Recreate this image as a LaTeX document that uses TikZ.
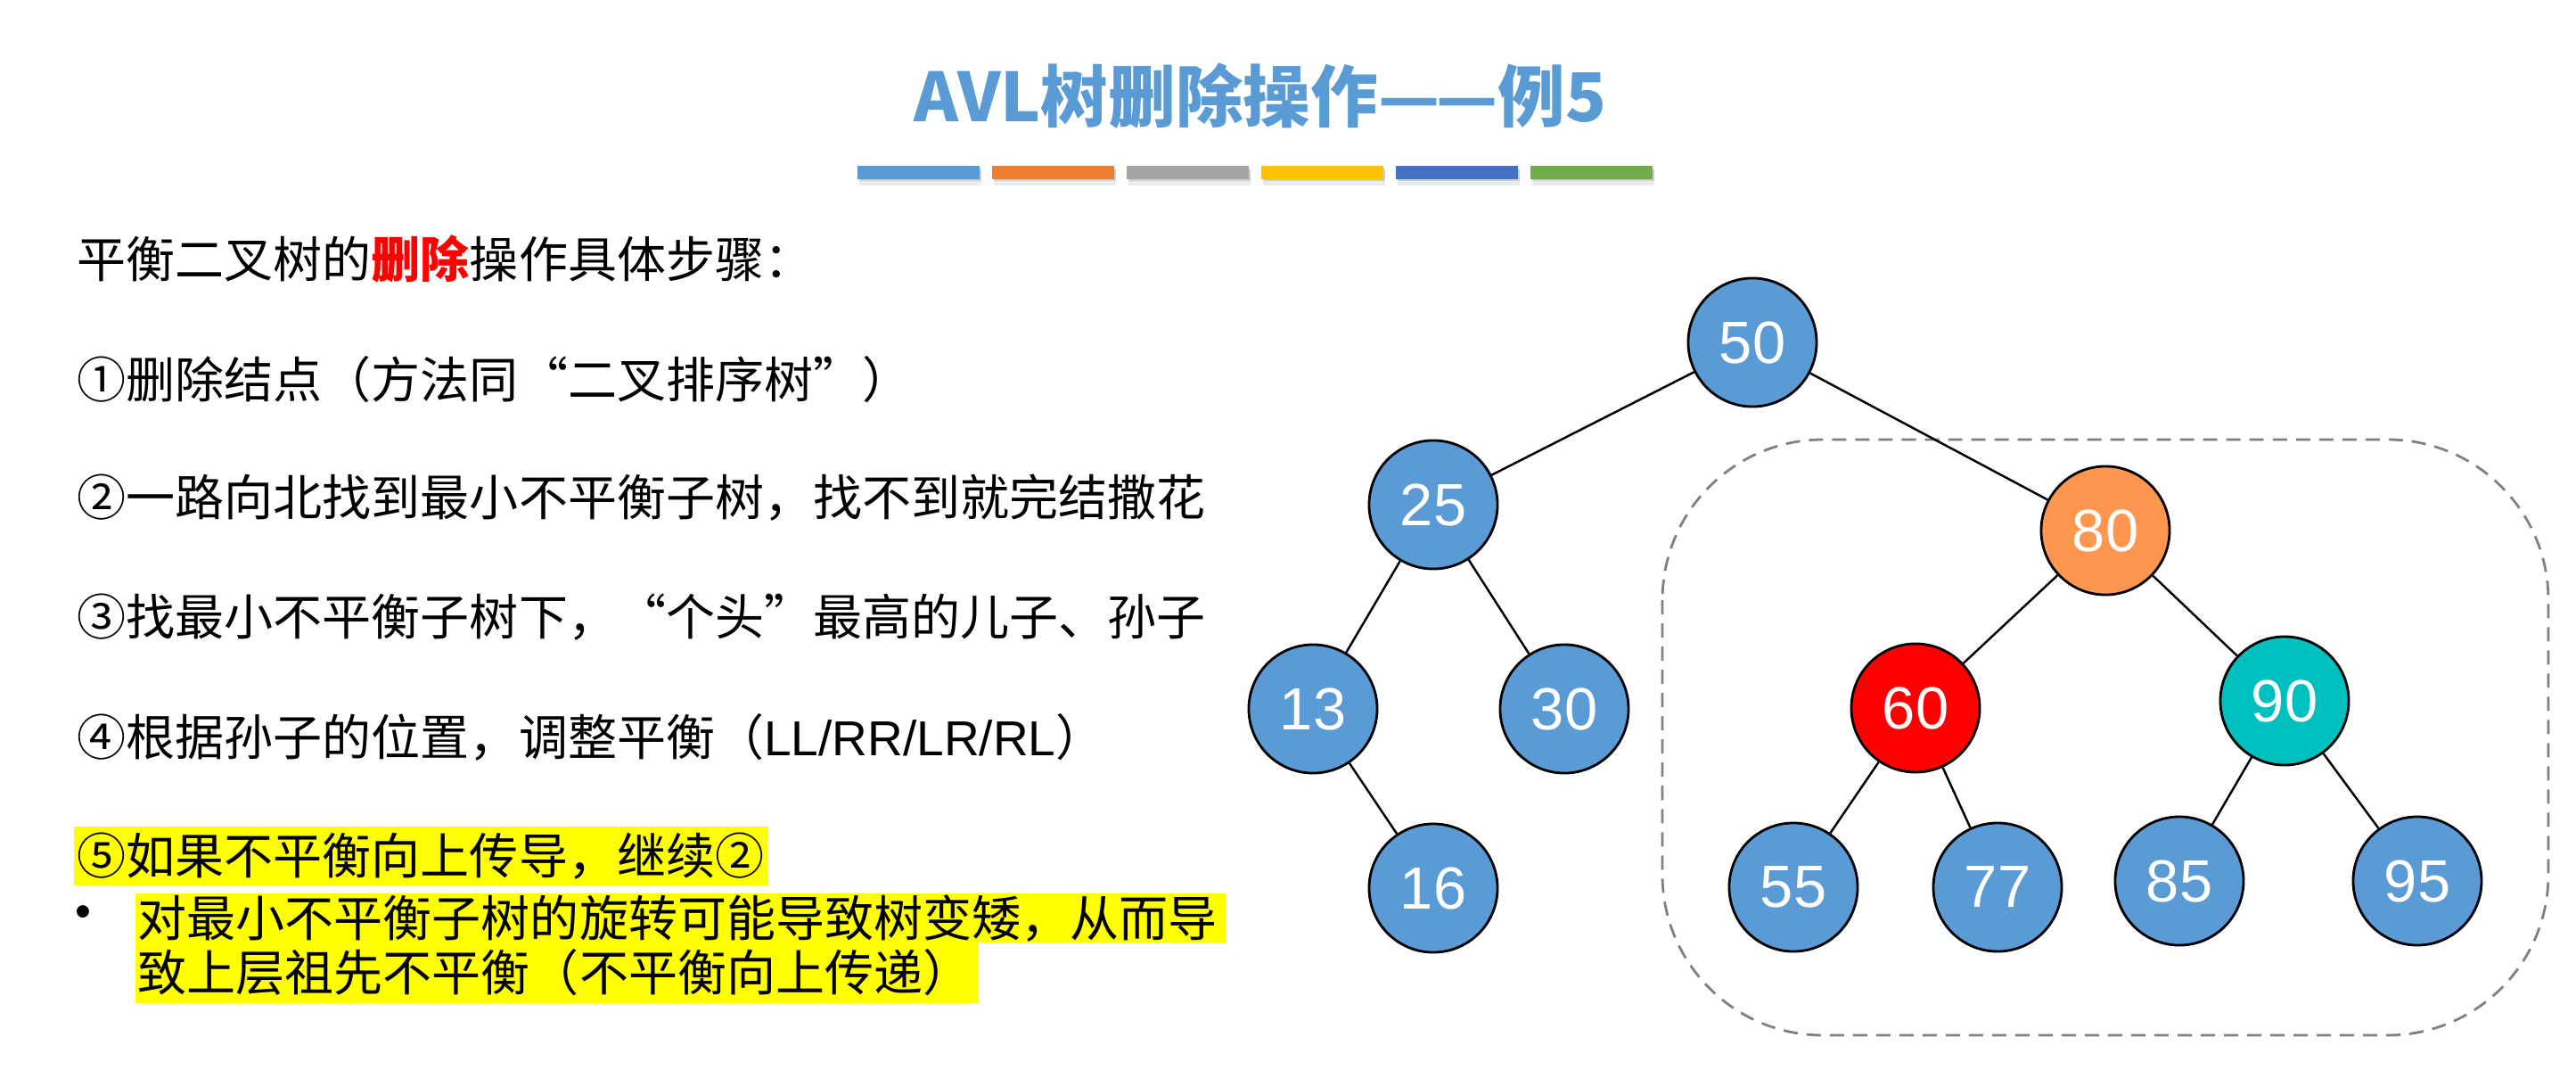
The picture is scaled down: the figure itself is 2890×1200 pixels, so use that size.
\documentclass[tikz,border=0pt]{standalone}
\usepackage{fontspec}
\setmainfont{Liberation Sans}
\newfontfamily\cjk{Noto Sans CJK SC}
\usetikzlibrary{positioning}

\definecolor{nodeblue}{HTML}{5B9BD5}
\definecolor{nodeorange}{HTML}{FF9650}
\definecolor{nodeteal}{HTML}{00BFBF}
\definecolor{hlyellow}{HTML}{FFFF00}
\definecolor{barA}{HTML}{5B9BD5}
\definecolor{barB}{HTML}{ED7D31}
\definecolor{barC}{HTML}{A5A5A5}
\definecolor{barD}{HTML}{FFC000}
\definecolor{barE}{HTML}{4472C4}
\definecolor{barF}{HTML}{70AD47}

\newcommand\bodyfont{\cjk\fontsize{15.65}{18}\selectfont}

\begin{document}
\begin{tikzpicture}[x=0.01cm, y=-0.01cm, c/.style={circle, draw, line width=0.8pt, fill=nodeblue, text=white, minimum size=1.44cm, inner sep=0pt, font=\fontsize{19}{19}\selectfont}, ub/.style={fill=nodeorange}, hi/.style={fill=red}, sib/.style={fill=nodeteal}, s/.style={line width=0.7pt}, txt/.style={anchor=west, inner sep=0pt, font=\bodyfont}, box/.style={draw=black!50, line width=0.8pt, dash pattern=on 0.16cm off 0.1cm, rounded corners=1.8cm}]
		\useasboundingbox (0,0) rectangle (2890,1200);

		% title and colour bar
		\node[font=\cjk\bfseries\fontsize{21.5}{24}\selectfont, text=nodeblue] (title) at (1414,108) {AVL树删除操作—\kern-0.05em—例5};
		\foreach \col [count=\i from 0] in {barA,barB,barC,barD,barE,barF} {
			\fill[black, opacity=0.08] (962+151*\i+2,190) rectangle ++(137,18);
			\fill[black, opacity=0.12] (962+151*\i+2,189) rectangle ++(137,14);
			\fill[\col] (962+151*\i,186) rectangle ++(137,15);
		}

		% steps
		\fill[hlyellow] (83,927) rectangle (862,993);
		\fill[hlyellow] (152,1002) rectangle (1375,1057);
		\fill[hlyellow] (152,1057) rectangle (1098,1125);
		\node[txt] (l0) at (86,290) {平衡二叉树的{\color{red}\bfseries 删除}操作具体步骤：};
		\node[txt] (l1) at (86,426) {①删除结点（方法同“二叉排序树”）};
		\node[txt] (l2) at (86,558) {②一路向北找到最小不平衡子树，找不到就完结撒花};
		\node[txt] (l3) at (86,692) {③找最小不平衡子树下，“个头”最高的儿子、孙子};
		\node[txt] (l4) at (86,827) {④根据孙子的位置，调整平衡（{\rmfamily LL/RR/LR/RL}）};
		\node[txt] (l5) at (86,960) {⑤如果不平衡向上传导，继续②};
		\node[txt, font=\fontsize{14.5}{14.5}\selectfont] (dot) at (84,1028) {•};
		\node[txt] (b1) at (154,1030) {对最小不平衡子树的旋转可能导致树变矮，从而导};
		\node[txt] (b2) at (154,1091) {致上层祖先不平衡（不平衡向上传递）};

		% tree
		\draw[box] (1865,493) rectangle (2859,1161);
		\node[c] (n50) at (1966,384) {50};
		\node[c] (n25) at (1608,566) {25};
		\node[c, ub] (n80) at (2362,595) {80};
		\node[c] (n13) at (1473,795) {13};
		\node[c] (n30) at (1755,795) {30};
		\node[c, hi] (n60) at (2149,794) {60};
		\node[c, sib] (n90) at (2563,786) {90};
		\node[c] (n16) at (1608,996) {16};
		\node[c] (n55) at (2012,995) {55};
		\node[c] (n77) at (2241,995) {77};
		\node[c] (n85) at (2445,988) {85};
		\node[c] (n95) at (2712,988) {95};

		\path[s] (n50) edge (n25);
		\path[s] (n50) edge (n80);
		\path[s] (n25) edge (n13);
		\path[s] (n25) edge (n30);
		\path[s] (n13) edge (n16);
		\path[s] (n80) edge (n60);
		\path[s] (n80) edge (n90);
		\path[s] (n60) edge (n55);
		\path[s] (n60) edge (n77);
		\path[s] (n90) edge (n85);
		\path[s] (n90) edge (n95);
	\end{tikzpicture}
\end{document}
